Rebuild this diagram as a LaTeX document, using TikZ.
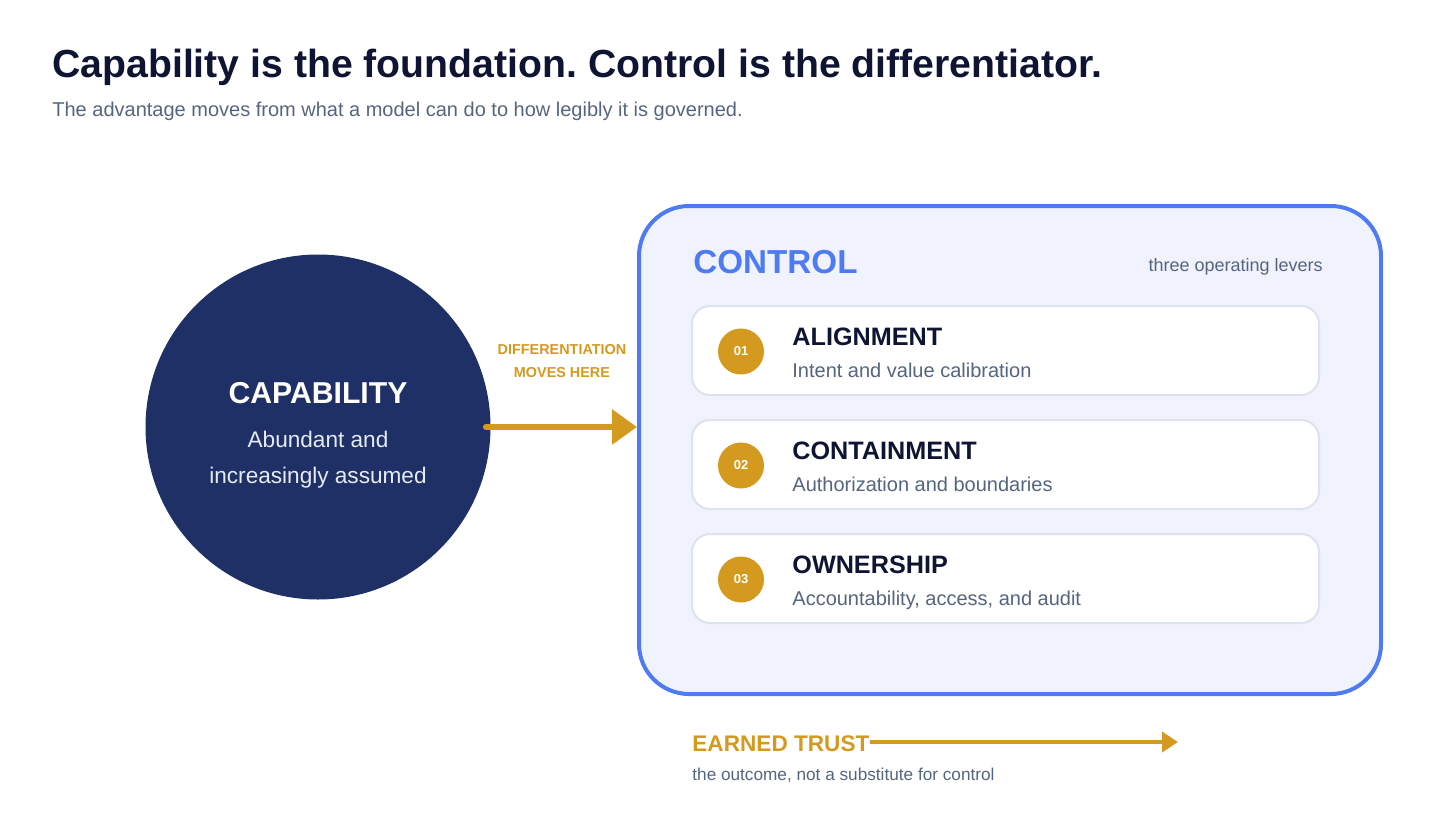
\documentclass[tikz,border=0pt]{standalone}
\usepackage{fontspec}
\setmainfont{Liberation Sans}
\usepackage{xcolor}
\usetikzlibrary{arrows.meta}
\frenchspacing

\definecolor{ink}{HTML}{0F1432}
\definecolor{slate}{HTML}{56657F}
\definecolor{gold}{HTML}{D4991F}
\definecolor{navy}{HTML}{1F3066}
\definecolor{paleline}{HTML}{E6EAF5}
\definecolor{ctrlblue}{HTML}{4F7BF2}
\definecolor{ctrlfill}{HTML}{F0F3FD}
\definecolor{leverline}{HTML}{DDE2EE}

\begin{document}
\begin{tikzpicture}[
    x=0.5pt, y=-0.5pt,
    txt/.style={inner sep=0, anchor=base west},
    heading/.style={txt, text=ink, font=\fontsize{19.6}{24}\selectfont\bfseries},
    subline/.style={txt, text=slate, font=\fontsize{10}{12}\selectfont},
    lever/.style={draw=leverline, line width=1pt, fill=white, rounded corners=9pt, minimum width=313.5pt, minimum height=44.5pt, inner sep=0},
    badge/.style={circle, fill=gold, minimum size=23pt, inner sep=0, text=white, font=\fontsize{6.5}{8}\selectfont\bfseries},
    levertitle/.style={txt, text=ink, font=\fontsize{12.6}{15}\selectfont\bfseries},
    leversub/.style={txt, text=slate, font=\fontsize{10}{12}\selectfont},
    goldarrow/.style={draw=gold, line cap=round, >={Triangle[length=12.5pt, width=17pt]}, ->, line width=3pt}
]
    \useasboundingbox (0,0) rectangle (1456,819);

    % Title
    \node[heading] (title) at (52,77) {Capability is the foundation. Control is the differentiator.};
    \node[subline] (subtitle) at (52,116) {The advantage moves from what a model can do to how legibly it is governed.};

    % Capability
    \node[circle, fill=navy, minimum size=172.5pt, inner sep=0] (cap) at (318,427) {};
    \node[anchor=base, inner sep=0, text=white, font=\fontsize{15.1}{18}\selectfont\bfseries] (capname) at (318,403) {CAPABILITY};
    \node[anchor=base, inner sep=0, text=paleline, font=\fontsize{11.3}{14}\selectfont] (capsub) at (318,447) {Abundant and};
    \node[anchor=base, inner sep=0, text=paleline, font=\fontsize{11.3}{14}\selectfont] (capsubb) at (318,483) {increasingly assumed};

    % Control
    \node[draw=ctrlblue, line width=2pt, fill=ctrlfill, rounded corners=25pt, minimum width=371pt, minimum height=244pt, inner sep=0] (control) at (1010,450) {};
    \node[txt, text=ctrlblue, font=\fontsize{16.6}{20}\selectfont\bfseries] (ctrlname) at (693,273) {CONTROL};
    \node[inner sep=0, anchor=base east, text=slate, font=\fontsize{9}{11}\selectfont] (ctrlnote) at (1323,271) {three operating levers};

    % Levers
    \foreach \i/\y/\name/\desc in {1/350.5/ALIGNMENT/Intent and value calibration,
                                   2/464.5/CONTAINMENT/Authorization and boundaries,
                                   3/578.5/OWNERSHIP/{Accountability, access, and audit}} {
        \node[lever] (lever\i) at (1005.5,\y) {};
        \node[badge] (badge\i) at (741,\y+1) {0\i};
        \node[levertitle] (levername\i) at (792,\y-5.5) {\name};
        \node[leversub] (leverdesc\i) at (792,\y+26.5) {\desc};
    }

    % Shift arrow
    \draw[goldarrow] ([xshift=-2.5pt]cap.east) -- (cap.east -| control.west);
    \node[align=center, text=gold, font=\fontsize{7.2}{11.5}\selectfont\bfseries] (shift) at (562,361) {DIFFERENTIATION\\MOVES HERE};

    % Earned trust
    \node[txt, text=gold, font=\fontsize{11.3}{14}\selectfont\bfseries] (trust) at (692,751) {EARNED TRUST};
    \coordinate (trustend) at (1178,742);
    \draw[draw=gold, line width=2pt, -{Triangle[length=8pt, width=10pt]}] (trust.east |- trustend) -- (trustend);
    \node[txt, text=slate, font=\fontsize{8.6}{10}\selectfont] (outcome) at (692,780) {the outcome, not a substitute for control};
\end{tikzpicture}
\end{document}
